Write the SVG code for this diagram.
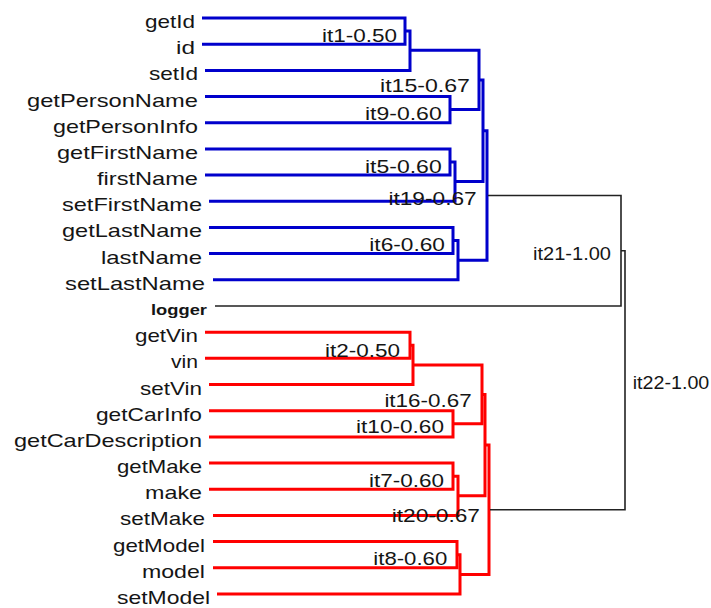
<svg xmlns="http://www.w3.org/2000/svg" width="711" height="608" viewBox="0 0 711 608">
<style>
  text { font-family: "Liberation Sans", Arial, sans-serif; font-size: 18.6px; fill: #151515; text-anchor: end; }
  .lg { font-weight: bold; font-size: 15px; }
  .st { text-anchor: start; }
  .b { fill: none; stroke: #0000cc; stroke-width: 3; }
  .r { fill: none; stroke: #ff0000; stroke-width: 3; }
  .k { fill: none; stroke: #222222; stroke-width: 1.6; }
</style>
<rect width="711" height="608" fill="#ffffff"/>
<g id="connectors">
  <path class="b" d="M202,18 H405 V44.2 H202"/>
  <path class="b" d="M405,31.1 H410 V70.4 H205"/>
  <path class="b" d="M205,96.5 H450 V122.7 H205"/>
  <path class="b" d="M410,50.3 H479 V109.6 H450"/>
  <path class="b" d="M205,148.9 H450 V175.1 H205"/>
  <path class="b" d="M450,162 H455 V201.3 H209"/>
  <path class="b" d="M209,227.4 H453 V253.6 H209"/>
  <path class="b" d="M453,240.5 H458 V279.8 H213"/>
  <path class="b" d="M479,80 H483 V181.6 H455"/>
  <path class="b" d="M483,130.8 H487 V260.2 H458"/>
  <path class="r" d="M205,332.2 H410 V358.3 H205"/>
  <path class="r" d="M410,345.3 H413 V384.5 H209"/>
  <path class="r" d="M209,410.7 H453 V436.9 H209"/>
  <path class="r" d="M413,364.9 H482 V423.8 H453"/>
  <path class="r" d="M209,463.1 H453 V489.2 H209"/>
  <path class="r" d="M453,476.2 H458 V515.4 H213"/>
  <path class="r" d="M213,541.6 H457 V567.8 H213"/>
  <path class="r" d="M457,554.7 H460 V594 H217"/>
  <path class="r" d="M482,394.4 H485 V495.8 H458"/>
  <path class="r" d="M485,445.1 H489 V574.4 H460"/>
  <path class="k" d="M488,195.5 H621 V306 H215"/>
  <path class="k" d="M621,250.8 H625 V509.7 H490"/>
</g>
<g id="leaf-getId"><text x="195" y="28" textLength="50" lengthAdjust="spacingAndGlyphs">getId</text></g>
<g id="leaf-id"><text x="195" y="54.2" textLength="19" lengthAdjust="spacingAndGlyphs">id</text></g>
<g id="leaf-setId"><text x="198" y="80.4" textLength="49" lengthAdjust="spacingAndGlyphs">setId</text></g>
<g id="leaf-getPersonName"><text x="198" y="106.5" textLength="171" lengthAdjust="spacingAndGlyphs">getPersonName</text></g>
<g id="leaf-getPersonInfo"><text x="198" y="132.7" textLength="145" lengthAdjust="spacingAndGlyphs">getPersonInfo</text></g>
<g id="leaf-getFirstName"><text x="198" y="158.9" textLength="141" lengthAdjust="spacingAndGlyphs">getFirstName</text></g>
<g id="leaf-firstName"><text x="198" y="185.1" textLength="101" lengthAdjust="spacingAndGlyphs">firstName</text></g>
<g id="leaf-setFirstName"><text x="202" y="211.3" textLength="140" lengthAdjust="spacingAndGlyphs">setFirstName</text></g>
<g id="leaf-getLastName"><text x="202" y="237.4" textLength="140" lengthAdjust="spacingAndGlyphs">getLastName</text></g>
<g id="leaf-lastName"><text x="202" y="263.6" textLength="101" lengthAdjust="spacingAndGlyphs">lastName</text></g>
<g id="leaf-setLastName"><text x="205" y="289.8" textLength="140" lengthAdjust="spacingAndGlyphs">setLastName</text></g>
<g id="leaf-logger"><text class="lg" x="207" y="314.5" textLength="56" lengthAdjust="spacingAndGlyphs">logger</text></g>
<g id="leaf-getVin"><text x="198" y="342.2" textLength="63" lengthAdjust="spacingAndGlyphs">getVin</text></g>
<g id="leaf-vin"><text x="198" y="368.3" textLength="27" lengthAdjust="spacingAndGlyphs">vin</text></g>
<g id="leaf-setVin"><text x="202" y="394.5" textLength="62" lengthAdjust="spacingAndGlyphs">setVin</text></g>
<g id="leaf-getCarInfo"><text x="202" y="420.7" textLength="106" lengthAdjust="spacingAndGlyphs">getCarInfo</text></g>
<g id="leaf-getCarDescription"><text x="202" y="446.9" textLength="188" lengthAdjust="spacingAndGlyphs">getCarDescription</text></g>
<g id="leaf-getMake"><text x="202" y="473.1" textLength="85" lengthAdjust="spacingAndGlyphs">getMake</text></g>
<g id="leaf-make"><text x="202" y="499.2" textLength="57" lengthAdjust="spacingAndGlyphs">make</text></g>
<g id="leaf-setMake"><text x="205" y="525.4" textLength="85" lengthAdjust="spacingAndGlyphs">setMake</text></g>
<g id="leaf-getModel"><text x="205" y="551.6" textLength="92" lengthAdjust="spacingAndGlyphs">getModel</text></g>
<g id="leaf-model"><text x="205" y="577.8" textLength="63" lengthAdjust="spacingAndGlyphs">model</text></g>
<g id="leaf-setModel"><text x="210" y="604" textLength="93" lengthAdjust="spacingAndGlyphs">setModel</text></g>
<g id="it1"><text x="397" y="41.7" textLength="75" lengthAdjust="spacingAndGlyphs">it1-0.50</text></g>
<g id="it15"><text x="470" y="91.7" textLength="90" lengthAdjust="spacingAndGlyphs">it15-0.67</text></g>
<g id="it9"><text x="441.7" y="120" textLength="76.7" lengthAdjust="spacingAndGlyphs">it9-0.60</text></g>
<g id="it5"><text x="441.7" y="173.3" textLength="76.7" lengthAdjust="spacingAndGlyphs">it5-0.60</text></g>
<g id="it19"><text x="476.7" y="205" textLength="88.3" lengthAdjust="spacingAndGlyphs">it19-0.67</text></g>
<g id="it6"><text x="445" y="250.5" textLength="75.7" lengthAdjust="spacingAndGlyphs">it6-0.60</text></g>
<g id="it2"><text x="400" y="357.3" textLength="75" lengthAdjust="spacingAndGlyphs">it2-0.50</text></g>
<g id="it16"><text x="471.7" y="406.7" textLength="87.3" lengthAdjust="spacingAndGlyphs">it16-0.67</text></g>
<g id="it10"><text x="444" y="433.3" textLength="88" lengthAdjust="spacingAndGlyphs">it10-0.60</text></g>
<g id="it7"><text x="444" y="487.3" textLength="75" lengthAdjust="spacingAndGlyphs">it7-0.60</text></g>
<g id="it20"><text x="480" y="521.7" textLength="88.3" lengthAdjust="spacingAndGlyphs">it20-0.67</text></g>
<g id="it8"><text x="447.3" y="565" textLength="74" lengthAdjust="spacingAndGlyphs">it8-0.60</text></g>
<g id="it21"><text x="611" y="260" textLength="78" lengthAdjust="spacingAndGlyphs">it21-1.00</text></g>
<g id="it22"><text class="st" x="632.7" y="389.3" textLength="76.6" lengthAdjust="spacingAndGlyphs">it22-1.00</text></g>
</svg>
